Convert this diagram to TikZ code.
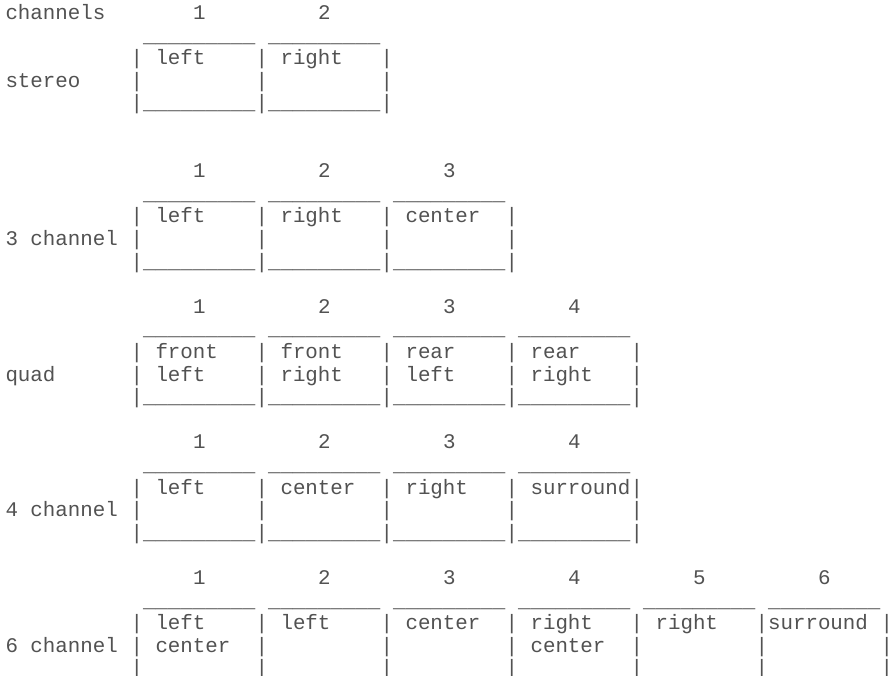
\documentclass[tikz,border=0pt]{standalone}
\usepackage{fontspec}
\newfontfamily\ascfont{Liberation Mono}
\definecolor{txtgray}{gray}{0.32}
\tikzset{asc/.style={anchor=base west, inner sep=0pt, outer sep=0pt,
  font=\ascfont\fontsize{20.83}{22.6}\selectfont, text=txtgray}}
\newcommand\us{\_\_\_\_\_\_\_\_\_}
% #1 name, #2 column, #3 line, #4 text
\newcommand\asc[4]{\node[asc] (#1) at ({5.5+12.5*(#2)},{-19.5-22.6*(#3)}) {#4};}
% #1 block name, #2 header line, #3 number of boxes, #4 draw bottom underscores (1/0)
\newcommand\boxrow[4]{%
  \pgfmathtruncatemacro\nb{#3+1}%
  \foreach \i in {1,...,#3}{%
    \asc{#1h\i}{5+10*\i}{#2}{\i}
    \asc{#1t\i}{1+10*\i}{#2+1}{\us}
    \ifnum#4=1 \asc{#1u\i}{1+10*\i}{#2+4}{\us}\fi
  }%
  \foreach \r in {2,3,4}{\foreach \i in {1,...,\nb}{\asc{#1b\r x\i}{10*\i}{#2+\r}{|}}}%
}
\begin{document}
\begin{tikzpicture}[x=1pt,y=1pt]
\useasboundingbox (0,0) rectangle (892,-676);
\fill[white] (0,0) rectangle (892,-676);
% stereo
\asc{chlab}{0}{0}{channels}
\boxrow{A}{0}{2}{1}
\asc{Alab}{0}{3}{stereo}
\asc{Aa}{12}{2}{left}
\asc{Ab}{22}{2}{right}
% 3 channel
\boxrow{B}{7}{3}{1}
\asc{Blab}{0}{10}{3 channel}
\asc{Ba}{12}{9}{left}
\asc{Bb}{22}{9}{right}
\asc{Bc}{32}{9}{center}
% quad
\boxrow{C}{13}{4}{1}
\asc{Clab}{0}{16}{quad}
\asc{Ca}{12}{15}{front}
\asc{Cb}{22}{15}{front}
\asc{Cc}{32}{15}{rear}
\asc{Cd}{42}{15}{rear}
\asc{Ca2}{12}{16}{left}
\asc{Cb2}{22}{16}{right}
\asc{Cc2}{32}{16}{left}
\asc{Cd2}{42}{16}{right}
% 4 channel
\boxrow{D}{19}{4}{1}
\asc{Dlab}{0}{22}{4 channel}
\asc{Da}{12}{21}{left}
\asc{Db}{22}{21}{center}
\asc{Dc}{32}{21}{right}
\asc{Dd}{42}{21}{surround}
% 6 channel
\boxrow{E}{25}{6}{0}
\asc{Elab}{0}{28}{6 channel}
\asc{Ea}{12}{27}{left}
\asc{Eb}{22}{27}{left}
\asc{Ec}{32}{27}{center}
\asc{Ed}{42}{27}{right}
\asc{Ee}{52}{27}{right}
\asc{Ef}{61}{27}{surround}
\asc{Ea2}{12}{28}{center}
\asc{Ed2}{42}{28}{center}
\end{tikzpicture}
\end{document}
